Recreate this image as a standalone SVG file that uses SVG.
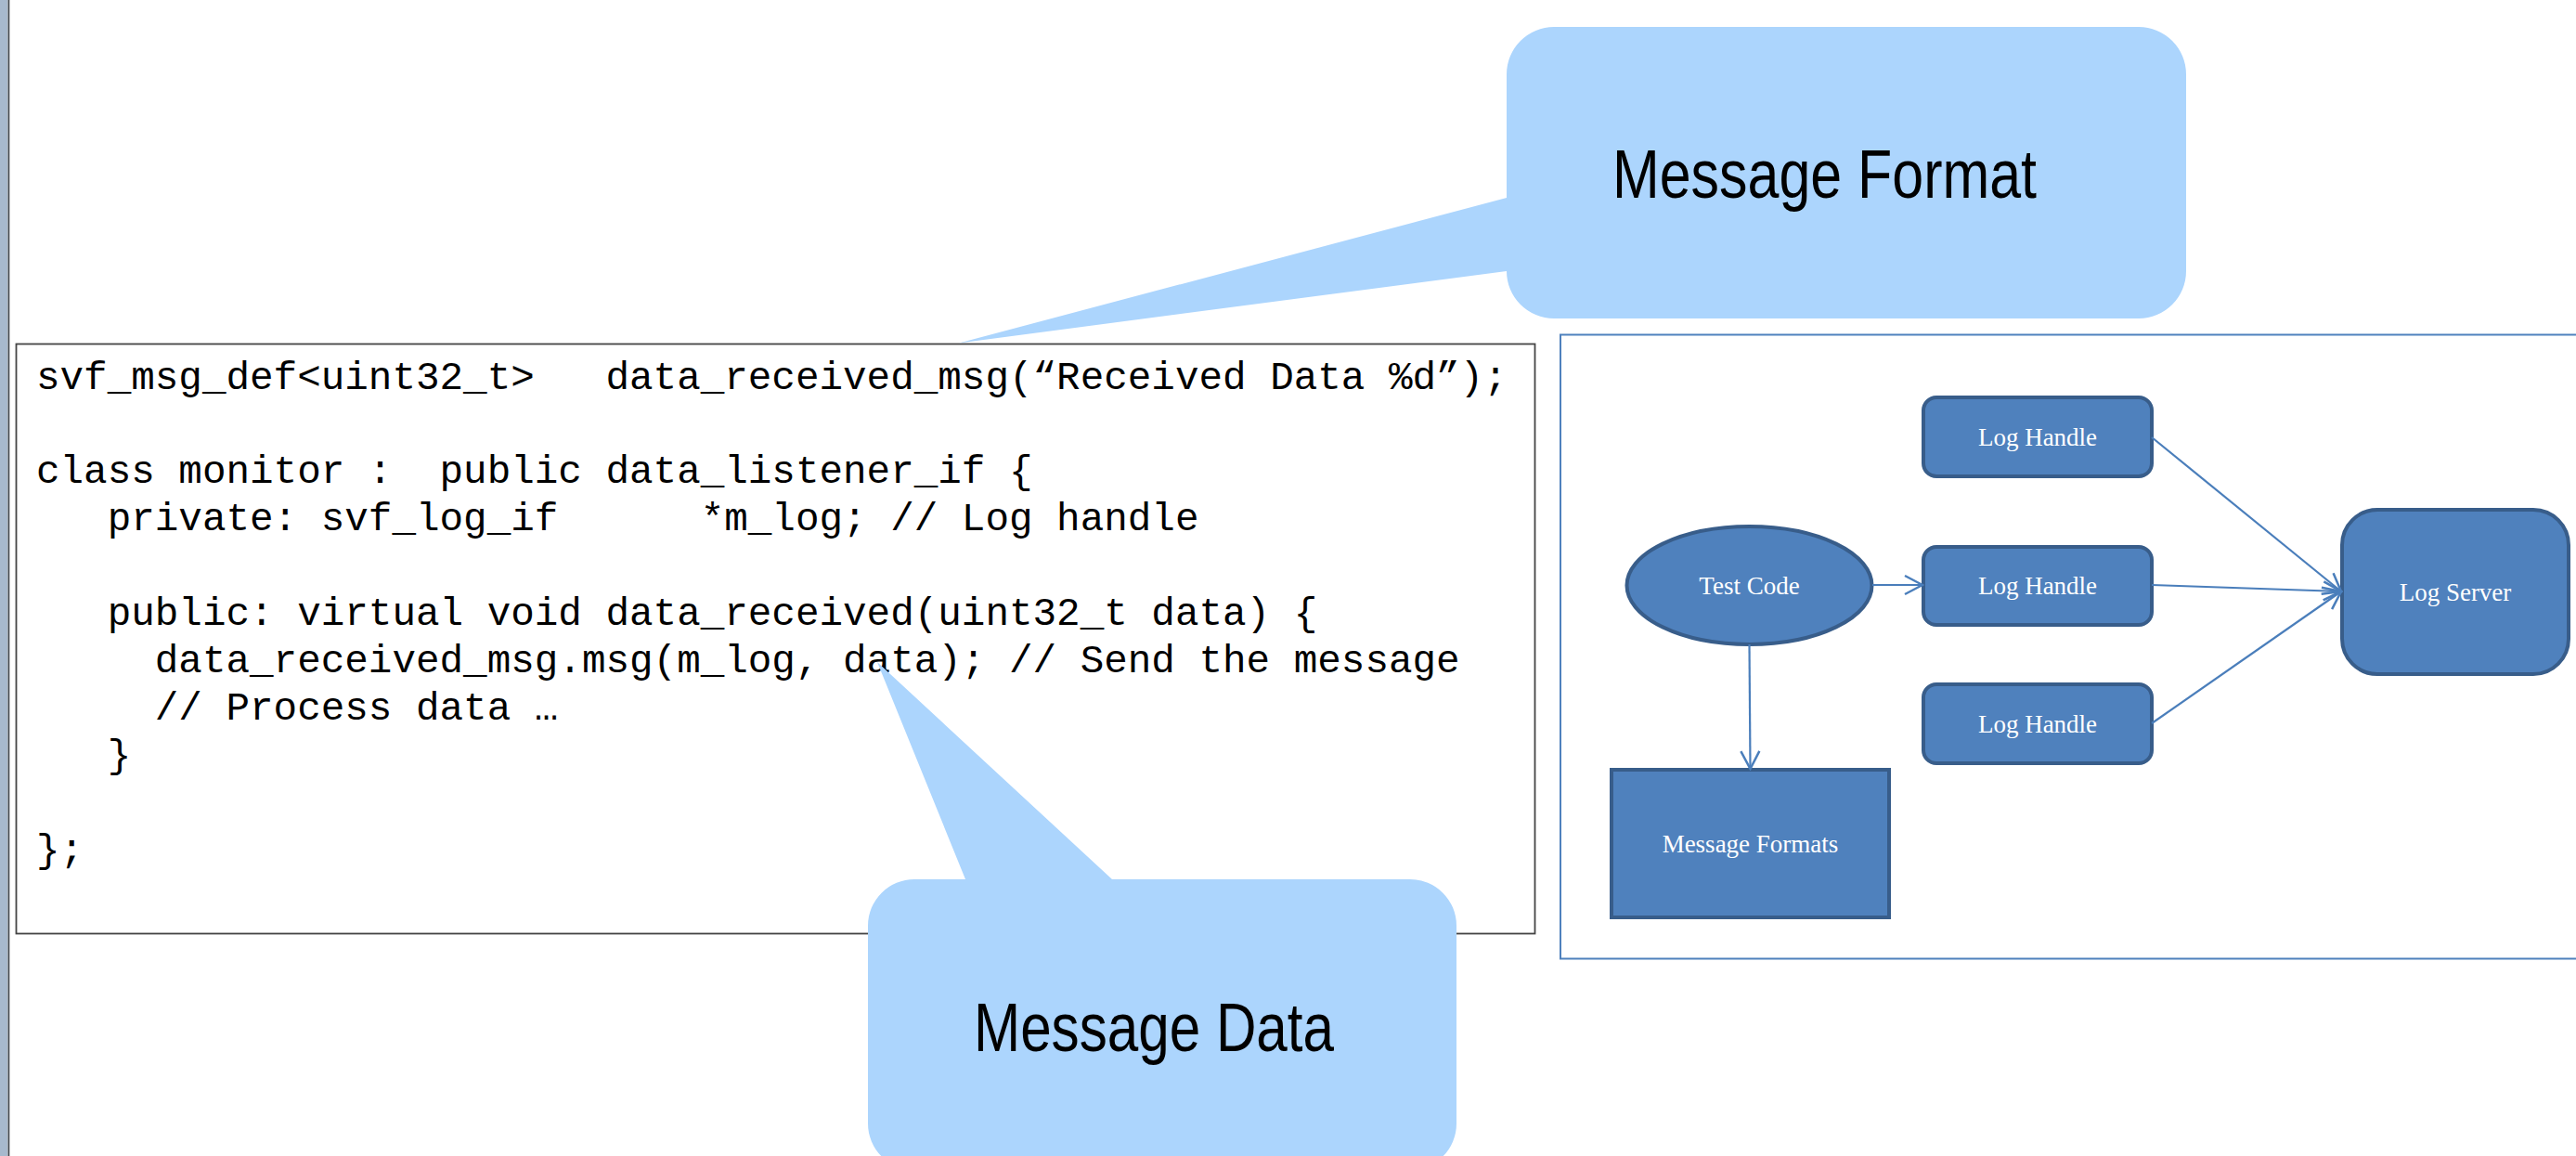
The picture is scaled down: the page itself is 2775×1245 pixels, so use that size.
<svg xmlns="http://www.w3.org/2000/svg" width="2775" height="1245" viewBox="0 0 2775 1245">
  <style>
    .code { font-family: "Liberation Mono", "Courier New", monospace; font-size: 42.6px; fill: #000; white-space: pre; }
    .callout { fill: #acd5fd; }
    .callout-label { font-family: "Liberation Sans Narrow", "Arial Narrow", "Liberation Sans", sans-serif; font-size: 74px; fill: #000; }
    .node { fill: #4f81bd; stroke: #385d8a; stroke-width: 4; }
    .node-label { font-family: "Liberation Serif", "Times New Roman", serif; font-size: 27px; fill: #fff; text-anchor: middle; }
    .edge { fill: none; stroke: #4a7ebb; stroke-width: 2.2; marker-end: url(#open-arrow); }
  </style>
  <defs>
    <marker id="open-arrow" viewBox="-22 -12 24 24" markerWidth="24" markerHeight="24" refX="0" refY="0" orient="auto" markerUnits="userSpaceOnUse">
      <path d="M -19 -10 L 0 0 L -19 10" fill="none" stroke="#4a7ebb" stroke-width="2.5"/>
    </marker>
  </defs>

  <rect width="2775" height="1245" fill="#ffffff"/>

  <!-- left margin strip -->
  <rect x="0" y="0" width="8" height="1245" fill="#a7b9cd"/>
  <rect x="8.5" y="0" width="1.8" height="1245" fill="#3f464e"/>

  <!-- source listing -->
  <g id="code-listing">
    <rect x="17.5" y="370.5" width="1636" height="635" fill="#ffffff" stroke="#444444" stroke-width="1.8"/>
    <text class="code" xml:space="preserve" x="39" y="419">svf_msg_def&lt;uint32_t&gt;   data_received_msg(“Received Data %d”);</text>
    <text class="code" xml:space="preserve" x="39" y="520">class monitor :  public data_listener_if {</text>
    <text class="code" xml:space="preserve" x="39" y="571">   private: svf_log_if      *m_log; // Log handle</text>
    <text class="code" xml:space="preserve" x="39" y="673">   public: virtual void data_received(uint32_t data) {</text>
    <text class="code" xml:space="preserve" x="39" y="724">     data_received_msg.msg(m_log, data); // Send the message</text>
    <text class="code" xml:space="preserve" x="39" y="775">     // Process data …</text>
    <text class="code" xml:space="preserve" x="39" y="826">   }</text>
    <text class="code" xml:space="preserve" x="39" y="928">};</text>
  </g>

  <!-- architecture panel frame -->
  <rect id="panel-frame" x="1681" y="360.5" width="1200" height="672" fill="#ffffff" stroke="#4f81bd" stroke-width="2"/>

  <!-- architecture nodes -->
  <g id="test-code">
    <ellipse class="node" cx="1884.5" cy="630.5" rx="132" ry="63.5"/>
    <text class="node-label" x="1884.5" y="640">Test Code</text>
  </g>
  <g id="log-handle-1">
    <rect class="node" x="2072" y="428" width="246" height="85" rx="14" ry="14"/>
    <text class="node-label" x="2195" y="480">Log Handle</text>
  </g>
  <g id="log-handle-2">
    <rect class="node" x="2072" y="589" width="246" height="84" rx="14" ry="14"/>
    <text class="node-label" x="2195" y="640">Log Handle</text>
  </g>
  <g id="log-handle-3">
    <rect class="node" x="2072" y="737" width="246" height="85" rx="14" ry="14"/>
    <text class="node-label" x="2195" y="789">Log Handle</text>
  </g>
  <g id="log-server">
    <rect class="node" x="2523" y="549" width="244" height="177" rx="38" ry="38"/>
    <text class="node-label" x="2645" y="647">Log Server</text>
  </g>
  <g id="message-formats">
    <rect class="node" x="1736" y="829" width="299" height="159"/>
    <text class="node-label" x="1885.5" y="918">Message Formats</text>
  </g>

  <!-- connectors -->
  <g id="connectors">
    <path class="edge" d="M 2017 630 L 2071 630"/>
    <path class="edge" d="M 1884.5 694 L 1885.5 828"/>
    <path class="edge" d="M 2318 471 L 2522 637"/>
    <path class="edge" d="M 2318 630 L 2522 637"/>
    <path class="edge" d="M 2318 779 L 2522 637"/>
  </g>

  <!-- annotation callouts -->
  <g id="callout-message-format">
    <path class="callout" d="M 1674 29 H 2304 A 51 51 0 0 1 2355 80 V 292 A 51 51 0 0 1 2304 343 H 1674 A 51 51 0 0 1 1623 292 L 1033 369.5 L 1623 213 V 80 A 51 51 0 0 1 1674 29 Z"/>
    <text class="callout-label" x="1737" y="213" textLength="457" lengthAdjust="spacingAndGlyphs">Message Format</text>
  </g>
  <g id="callout-message-data">
    <path class="callout" d="M 985 947 H 1040 L 945 713 L 1198 947 H 1519 A 50 50 0 0 1 1569 997 V 1210 A 50 50 0 0 1 1519 1260 H 985 A 50 50 0 0 1 935 1210 V 997 A 50 50 0 0 1 985 947 Z"/>
    <text class="callout-label" x="1049" y="1132" textLength="388" lengthAdjust="spacingAndGlyphs">Message Data</text>
  </g>
</svg>
